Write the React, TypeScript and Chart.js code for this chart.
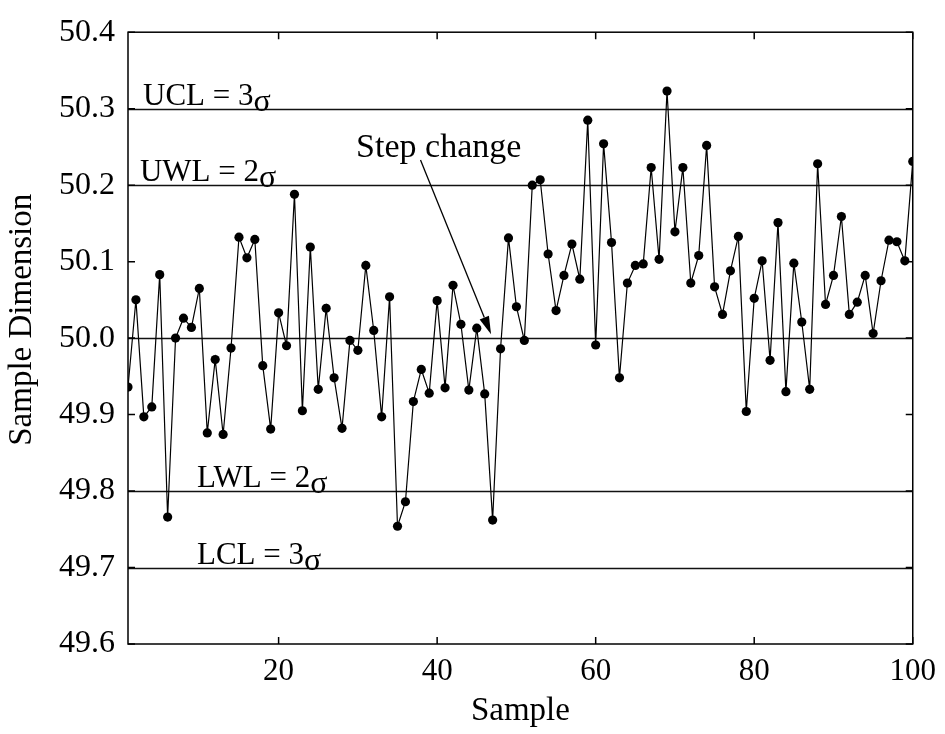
import React, { useEffect, useRef } from "react";
import { Chart, registerables } from "chart.js";

Chart.register(...registerables);

// ---------- data ----------
const samples: number[] = [
  1, 2, 3, 4, 5, 6, 7, 8, 9, 10, 11, 12, 13, 14, 15, 16, 17, 18, 19, 20,
  21, 22, 23, 24, 25, 26, 27, 28, 29, 30, 31, 32, 33, 34, 35, 36, 37, 38, 39, 40,
  41, 42, 43, 44, 45, 46, 47, 48, 49, 50, 51, 52, 53, 54, 55, 56, 57, 58, 59, 60,
  61, 62, 63, 64, 65, 66, 67, 68, 69, 70, 71, 72, 73, 74, 75, 76, 77, 78, 79, 80,
  81, 82, 83, 84, 85, 86, 87, 88, 89, 90, 91, 92, 93, 94, 95, 96, 97, 98, 99, 100,
];

const dimension: number[] = [
  49.936, 50.05, 49.897, 49.91, 50.083, 49.766, 50.0, 50.026, 50.014, 50.065,
  49.876, 49.972, 49.874, 49.987, 50.132, 50.105, 50.129, 49.964, 49.881, 50.033,
  49.99, 50.188, 49.905, 50.119, 49.933, 50.039, 49.948, 49.882, 49.997, 49.984,
  50.095, 50.01, 49.897, 50.054, 49.754, 49.786, 49.917, 49.959, 49.928, 50.049,
  49.935, 50.069, 50.018, 49.932, 50.013, 49.927, 49.762, 49.986, 50.131, 50.041,
  49.997, 50.2, 50.207, 50.11, 50.036, 50.082, 50.123, 50.077, 50.285, 49.991,
  50.254, 50.125, 49.948, 50.072, 50.095, 50.097, 50.223, 50.103, 50.323, 50.139,
  50.223, 50.072, 50.108, 50.252, 50.067, 50.031, 50.088, 50.133, 49.904, 50.052,
  50.101, 49.971, 50.151, 49.93, 50.098, 50.021, 49.933, 50.228, 50.044, 50.082,
  50.159, 50.031, 50.047, 50.082, 50.006, 50.075, 50.128, 50.126, 50.101, 50.231,
];

const xTicks: number[] = [20, 40, 60, 80, 100];
const yTicks: number[] = [49.6, 49.7, 49.8, 49.9, 50.0, 50.1, 50.2, 50.3, 50.4];

const limitValues: number[] = [50.3, 50.2, 50.0, 49.8, 49.7];
const limitNames: string[] = ["UCL = 3", "UWL = 2", "", "LWL = 2", "LCL = 3"];
const limitLabelX: number[] = [2.9, 2.5, 0, 9.7, 9.7];

const annotationText = "Step change";
const annotationLabel: number[] = [40.2, 50.237];
const arrowFrom: number[] = [37.9, 50.233];
const arrowTo: number[] = [46.8, 50.005];

const xTitle = "Sample";
const yTitle = "Sample Dimension";

const SERIF = "'Liberation Serif', 'Times New Roman', serif";

const controlChartPlugin = {
  id: "controlChartDecor",
  beforeDatasetsDraw(chart: any) {
    const { ctx, chartArea, scales } = chart;
    const xs = scales.x;
    const ys = scales.y;
    ctx.save();
    ctx.strokeStyle = "#111";
    ctx.lineWidth = 1.5;
    limitValues.forEach((v) => {
      const py = Math.round(ys.getPixelForValue(v)) + 0.5;
      ctx.beginPath();
      ctx.moveTo(chartArea.left, py);
      ctx.lineTo(chartArea.right, py);
      ctx.stroke();
    });
    ctx.fillStyle = "#000";
    ctx.textBaseline = "alphabetic";
    ctx.textAlign = "left";
    limitValues.forEach((v, i) => {
      if (!limitNames[i]) return;
      const px = xs.getPixelForValue(limitLabelX[i]);
      const py = ys.getPixelForValue(v) - 4;
      ctx.font = `31px ${SERIF}`;
      ctx.fillText(limitNames[i], px, py);
      const w = ctx.measureText(limitNames[i]).width;
      ctx.font = `32px ${SERIF}`;
      ctx.fillText("\u03c3", px + w, py + 6);
    });
    ctx.restore();
  },
  afterDatasetsDraw(chart: any) {
    const { ctx, chartArea, scales } = chart;
    const xs = scales.x;
    const ys = scales.y;
    ctx.save();
    // frame
    ctx.strokeStyle = "#000";
    ctx.lineWidth = 1.5;
    ctx.strokeRect(chartArea.left, chartArea.top, chartArea.right - chartArea.left, chartArea.bottom - chartArea.top);
    // inner tick marks
    const tl = 7;
    yTicks.forEach((v) => {
      const py = ys.getPixelForValue(v);
      ctx.beginPath();
      ctx.moveTo(chartArea.left, py);
      ctx.lineTo(chartArea.left + tl, py);
      ctx.moveTo(chartArea.right, py);
      ctx.lineTo(chartArea.right - tl, py);
      ctx.stroke();
    });
    xTicks.forEach((v) => {
      const px = xs.getPixelForValue(v);
      ctx.beginPath();
      ctx.moveTo(px, chartArea.bottom);
      ctx.lineTo(px, chartArea.bottom - tl);
      ctx.moveTo(px, chartArea.top);
      ctx.lineTo(px, chartArea.top + tl);
      ctx.stroke();
    });
    // annotation text
    ctx.fillStyle = "#000";
    ctx.font = `34px ${SERIF}`;
    ctx.textAlign = "center";
    ctx.textBaseline = "alphabetic";
    ctx.fillText(annotationText, xs.getPixelForValue(annotationLabel[0]), ys.getPixelForValue(annotationLabel[1]));
    // arrow
    const x1 = xs.getPixelForValue(arrowFrom[0]);
    const y1 = ys.getPixelForValue(arrowFrom[1]);
    const x2 = xs.getPixelForValue(arrowTo[0]);
    const y2 = ys.getPixelForValue(arrowTo[1]);
    const ang = Math.atan2(y2 - y1, x2 - x1);
    const headLen = 18;
    const headW = 5;
    const bx = x2 - headLen * Math.cos(ang);
    const by = y2 - headLen * Math.sin(ang);
    ctx.lineWidth = 1.3;
    ctx.beginPath();
    ctx.moveTo(x1, y1);
    ctx.lineTo(bx, by);
    ctx.stroke();
    ctx.beginPath();
    ctx.moveTo(x2, y2);
    ctx.lineTo(bx + headW * Math.sin(ang), by - headW * Math.cos(ang));
    ctx.lineTo(bx - headW * Math.sin(ang), by + headW * Math.cos(ang));
    ctx.closePath();
    ctx.fill();
    // y axis title (slightly above centre, as in the reference)
    ctx.save();
    ctx.translate(22, chartArea.top + (chartArea.bottom - chartArea.top) * 0.47);
    ctx.rotate(-Math.PI / 2);
    ctx.font = `33px ${SERIF}`;
    ctx.textAlign = "center";
    ctx.textBaseline = "middle";
    ctx.fillText(yTitle, 0, 0);
    ctx.restore();
    ctx.restore();
  },
};

export default function App() {
  const canvasRef = useRef<HTMLCanvasElement | null>(null);

  useEffect(() => {
    if (!canvasRef.current) return;
    const chart = new Chart(canvasRef.current, {
      type: "line",
      data: {
        datasets: [
          {
            data: samples.map((s, i) => ({ x: s, y: dimension[i] })),
            borderColor: "#000",
            borderWidth: 1.2,
            backgroundColor: "#000",
            pointBackgroundColor: "#000",
            pointBorderColor: "#000",
            pointRadius: 4.6,
            pointBorderWidth: 0,
            tension: 0,
          },
        ],
      },
      options: {
        animation: false,
        responsive: false,
        layout: { padding: { top: 20, right: 28, left: 0, bottom: 0 } },
        plugins: { legend: { display: false }, tooltip: { enabled: false } },
        scales: {
          x: {
            type: "linear",
            min: 1,
            max: 100,
            afterBuildTicks: (s: any) => {
              s.ticks = xTicks.map((v) => ({ value: v }));
            },
            afterFit: (s: any) => {
              s.height = 90;
            },
            grid: { display: false, drawTicks: false },
            border: { display: false },
            ticks: {
              color: "#000",
              font: { family: SERIF, size: 31 },
              padding: 9,
              maxRotation: 0,
              autoSkip: false,
            },
            title: {
              display: true,
              text: xTitle,
              color: "#000",
              font: { family: SERIF, size: 33 },
              padding: { top: 0, bottom: 3 },
            },
          },
          y: {
            type: "linear",
            min: 49.6,
            max: 50.4,
            afterBuildTicks: (s: any) => {
              s.ticks = yTicks.map((v) => ({ value: v }));
            },
            afterFit: (s: any) => {
              s.width = 128;
            },
            grid: { display: false, drawTicks: false },
            border: { display: false },
            ticks: {
              color: "#000",
              font: { family: SERIF, size: 32 },
              padding: 13,
              callback: (v: any) => Number(v).toFixed(1),
            },
            title: { display: false },
          },
        },
      },
      plugins: [controlChartPlugin],
    });
    return () => chart.destroy();
  }, []);

  return (
    <div style={{ position: "absolute", left: 0, top: 0, width: 945, height: 734, background: "#fff" }}>
      <canvas ref={canvasRef} width={945} height={734} style={{ display: "block" }} />
    </div>
  );
}
